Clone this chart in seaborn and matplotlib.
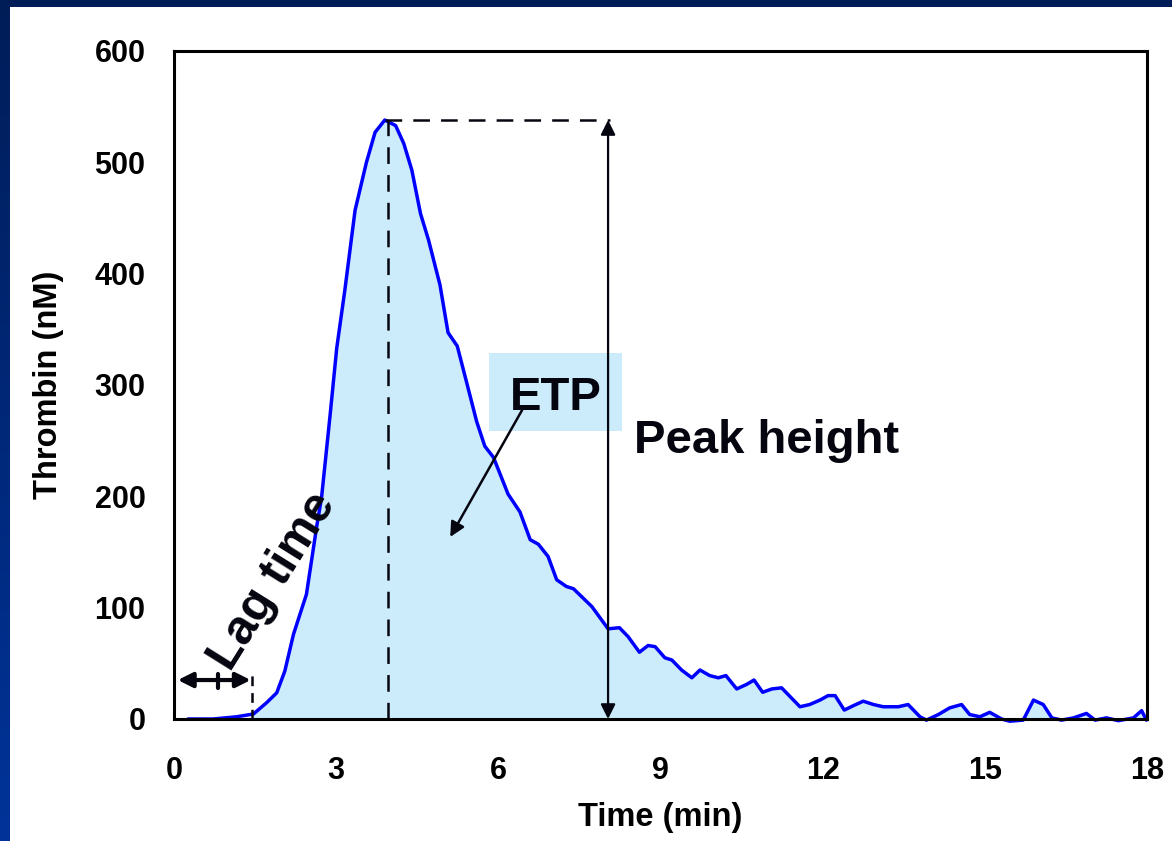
import numpy as np
import pandas as pd
import matplotlib
matplotlib.use('Agg')
import matplotlib.pyplot as plt
import seaborn as sns
from matplotlib.patches import Rectangle
from matplotlib.colors import LinearSegmentedColormap

# ---- data ----
time_min = [0.26, 0.72, 1.16, 1.47, 1.71, 1.90, 2.05, 2.21, 2.45, 2.64,
            2.73, 2.89, 3.01, 3.16, 3.35, 3.56, 3.72, 3.90, 4.10, 4.25,
            4.40, 4.56, 4.71, 4.92, 5.07, 5.24, 5.41, 5.60, 5.75, 5.91,
            6.18, 6.40, 6.59, 6.74, 6.92, 7.08, 7.26, 7.39, 7.73, 8.03,
            8.24, 8.40, 8.61, 8.77, 8.90, 9.08, 9.21, 9.39, 9.58, 9.73,
            9.91, 10.07, 10.21, 10.41, 10.59, 10.73, 10.89, 11.06, 11.24, 11.42,
            11.58, 11.76, 11.95, 12.10, 12.23, 12.40, 12.57, 12.75, 12.94, 13.12,
            13.40, 13.58, 13.80, 13.92, 14.14, 14.35, 14.57, 14.72, 14.91, 15.09,
            15.31, 15.46, 15.71, 15.90, 16.08, 16.24, 16.42, 16.64, 16.88, 17.04,
            17.25, 17.47, 17.75, 17.90, 17.99]
thrombin_nM = [0, 0, 2, 4.5, 14.5, 23.5, 43, 76, 112, 173,
               199, 274, 333, 385, 457, 500, 527, 538, 533, 517,
               493, 454, 430, 390, 347, 335, 303, 267, 245, 235,
               202, 186, 161, 157, 146, 125, 119, 117, 101, 81,
               82, 74, 60, 66, 65, 55, 53, 44, 37, 44,
               39, 37, 39, 27, 31, 35, 24, 27, 28, 19,
               11, 13, 17, 21, 21, 8, 12, 16, 13, 11,
               11, 13, 2, -1, 4, 10, 13, 4, 2, 6,
               0, -2, -1, 17, 13, 1, -1, 1, 5, -1,
               1, -1.5, 1, 7.5, -1]
x_ticks = [0, 3, 6, 9, 12, 15, 18]
y_ticks = [0, 100, 200, 300, 400, 500, 600]
peak_time = 3.90
peak_value = 538
lag_time = 1.45

sns.set_style('white')
plt.rcParams['font.family'] = ['Liberation Sans', 'DejaVu Sans']
plt.rcParams['font.weight'] = 'bold'
plt.rcParams['lines.scale_dashes'] = False
plt.rcParams['text.color'] = 'black'
plt.rcParams['axes.labelcolor'] = 'black'
plt.rcParams['axes.labelweight'] = 'bold'

W, H = 1172, 841
fig = plt.figure(figsize=(W / 100, H / 100), dpi=100)
fig.patch.set_facecolor('white')

# slide frame (navy bands on top and left)
cmap = LinearSegmentedColormap.from_list('frame', ['#001d58', '#003399'])
bg = fig.add_axes([0, 0, 10 / W, 1])
bg.imshow(np.linspace(0, 1, 256).reshape(-1, 1), aspect='auto', cmap=cmap)
bg.set_axis_off()
fig.add_artist(Rectangle((0, 1 - 7 / H), 1, 7 / H, transform=fig.transFigure,
                         color='#001d58', lw=0))

ax = fig.add_axes([174 / W, 122 / H, 973 / W, 668 / H])
df = pd.DataFrame({'Time (min)': time_min, 'Thrombin (nM)': thrombin_nM})
t = np.array(time_min)
v = np.array(thrombin_nM)

fill_col = '#CCECFC'
ax.fill_between(t, 0, np.clip(v, 0, None), where=t >= lag_time,
                color=fill_col, lw=0, zorder=1)
sns.lineplot(data=df, x='Time (min)', y='Thrombin (nM)', ax=ax, color='#0000FF',
             lw=2.5, zorder=2, clip_on=False)

ax.set_xlim(0, 18)
ax.set_ylim(0, 600)
ax.set_xticks(x_ticks)
ax.set_yticks(y_ticks)
for s in ax.spines.values():
    s.set_visible(True)
    s.set_color('black')
    s.set_linewidth(2.2)
    s.set_zorder(3)
ax.tick_params(axis='both', direction='out', length=7.5, width=1.8,
               labelsize=22, colors='black')
ax.tick_params(axis='x', pad=19)
ax.tick_params(axis='y', pad=13)
ax.set_xlabel('Time (min)', fontsize=23.5, fontweight='bold', color='black', labelpad=12)
ax.set_ylabel('Thrombin (nM)', fontsize=23.5, fontweight='bold', color='black', labelpad=22)

dash = (0, (12, 8))
ink = '#050510'
# peak markers
ax.plot([peak_time, 8.07], [peak_value, peak_value], color=ink, ls=dash, lw=1.8, zorder=4)
ax.plot([3.95, 3.95], [0, peak_value], color=ink, ls=dash, lw=1.8, zorder=4)
ax.annotate('', xy=(8.03, 0), xytext=(8.03, peak_value),
            arrowprops=dict(arrowstyle='<|-|>', color=ink, lw=1.6,
                            mutation_scale=22, shrinkA=0, shrinkB=0), zorder=4)
ax.text(8.51, 239, 'Peak height', ha='left', va='baseline', fontsize=34,
        color=ink, zorder=5)

# ETP label
ax.add_patch(Rectangle((5.83, 259), 2.46, 70, color=fill_col, lw=0, zorder=1.5))
ax.text(7.06, 277.5, 'ETP', ha='center', va='baseline', fontsize=34,
        color=ink, zorder=5)
ax.annotate('', xy=(5.11, 163.5), xytext=(6.44, 277.5),
            arrowprops=dict(arrowstyle='-|>', color=ink, lw=1.8,
                            mutation_scale=22, shrinkA=0, shrinkB=0), zorder=4)

# lag time
ax.text(1.05, 42, 'Lag time', rotation=58, rotation_mode='anchor', ha='left',
        va='baseline', fontsize=35, color=ink, zorder=5)
ax.annotate('', xy=(0.07, 35), xytext=(1.42, 35),
            arrowprops=dict(arrowstyle='<|-|>', color=ink, lw=3,
                            mutation_scale=22, shrinkA=0, shrinkB=0), zorder=4)
ax.plot([lag_time, lag_time], [0, 41], color=ink, ls=(0, (7, 5)), lw=1.8, zorder=4)
ax.plot([0.82, 0.82], [28, 40], color=ink, lw=3, zorder=4)

fig.savefig('out.png', dpi=100)
